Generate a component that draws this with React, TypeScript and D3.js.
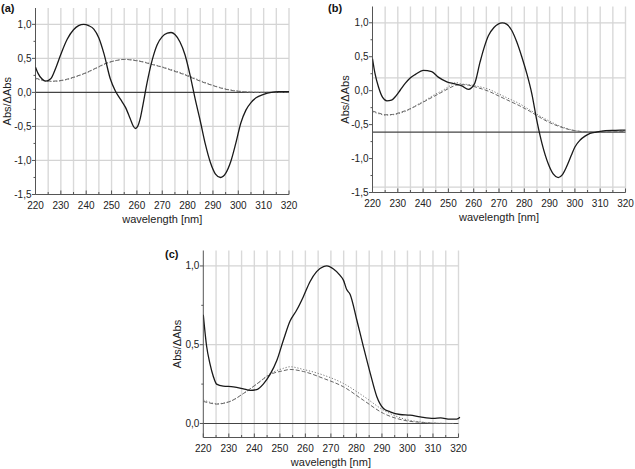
import React from "react";
import * as d3 from "d3";

// ---------- DATA ----------
const X_TICKS = [220, 230, 240, 250, 260, 270, 280, 290, 300, 310, 320];
const X_GRID = [225, 230, 235, 240, 245, 250, 255, 260, 265, 270, 275, 280, 285, 290, 295, 300, 305, 310, 315, 320];
const Y_TICKS_AB = [1.0, 0.5, 0.0, -0.5, -1.0, -1.5];
const Y_TICKS_C = [1.0, 0.5, 0.0];

// Panel (a)
const aSolidWl = [220, 221, 222.5, 224, 226, 228, 230, 232.5, 235, 237, 239, 241, 243, 245, 247, 249.5, 251.5, 253.5, 255.5, 257.3, 258.5, 259.4, 260.3, 261.2, 262.3, 264, 266, 268, 270, 272, 273.5, 275, 277, 279, 281, 283, 285, 287, 289, 291, 293, 295, 297, 299, 301, 303, 305, 307, 310, 313, 316, 320];
const aSolidVal = [0.37, 0.28, 0.2, 0.165, 0.2, 0.36, 0.56, 0.78, 0.92, 0.98, 1.0, 0.98, 0.93, 0.8, 0.57, 0.2, 0.02, -0.1, -0.22, -0.38, -0.49, -0.53, -0.5, -0.4, -0.2, 0.14, 0.47, 0.7, 0.82, 0.87, 0.88, 0.85, 0.74, 0.55, 0.25, -0.1, -0.42, -0.76, -1.03, -1.2, -1.25, -1.19, -1.02, -0.75, -0.45, -0.26, -0.15, -0.08, -0.03, 0.0, 0.01, 0.01];
const aDashWl = [220, 223, 226, 229, 232, 236, 240, 244, 248, 252, 255, 258, 262, 266, 270, 274, 278, 282, 286, 290, 294, 298, 302, 306, 310, 320];
const aDashVal = [0.21, 0.18, 0.165, 0.17, 0.19, 0.235, 0.29, 0.36, 0.43, 0.47, 0.485, 0.475, 0.45, 0.41, 0.37, 0.32, 0.27, 0.21, 0.15, 0.1, 0.055, 0.025, 0.01, 0.0, 0.0, 0.0];
const aDotVal = [0.2, 0.175, 0.16, 0.165, 0.185, 0.23, 0.285, 0.355, 0.425, 0.47, 0.485, 0.48, 0.455, 0.415, 0.375, 0.33, 0.28, 0.22, 0.16, 0.105, 0.06, 0.03, 0.012, 0.003, 0.0, 0.0];

// Panel (b)
const bSolidWl = [220, 221, 222.4, 224, 225.7, 227.5, 229, 231, 233, 235, 237, 240, 243.4, 246, 249.4, 252.6, 255.3, 257.9, 260.3, 262.5, 264, 265.8, 268, 271.3, 273, 275, 277, 279, 281, 283, 285, 287, 289.5, 291.5, 293.4, 295, 296.7, 298.5, 300, 302, 304, 306, 308.5, 312, 316, 320];
const bSolidVal = [0.47, 0.25, 0.05, -0.1, -0.15, -0.14, -0.09, 0.01, 0.11, 0.19, 0.24, 0.3, 0.28, 0.2, 0.13, 0.1, 0.07, 0.02, 0.1, 0.42, 0.62, 0.81, 0.93, 1.0, 0.98, 0.89, 0.72, 0.5, 0.25, -0.05, -0.45, -0.78, -1.08, -1.23, -1.28, -1.24, -1.12, -0.96, -0.83, -0.73, -0.67, -0.63, -0.61, -0.59, -0.585, -0.58];
const bDashWl = [220, 222.5, 225, 228, 231, 234, 237, 240, 244, 248, 251, 253, 255, 258, 262, 266, 270, 274, 278, 282, 286, 290, 294, 298, 302, 306, 310, 320];
const bDashVal = [-0.3, -0.33, -0.355, -0.35, -0.32, -0.28, -0.23, -0.17, -0.09, -0.01, 0.05, 0.08, 0.09, 0.08, 0.04, -0.01, -0.08, -0.15, -0.22, -0.3, -0.39, -0.47, -0.53, -0.575, -0.6, -0.61, -0.61, -0.6];
const bDotVal = [-0.31, -0.34, -0.36, -0.355, -0.33, -0.29, -0.22, -0.16, -0.07, 0.01, 0.08, 0.12, 0.1, 0.09, 0.06, 0.02, -0.05, -0.12, -0.19, -0.28, -0.37, -0.45, -0.52, -0.57, -0.6, -0.61, -0.6, -0.59];

// Panel (c)
const cSolidWl = [220, 221.3, 222.6, 223.9, 225.2, 227.8, 231.8, 235.7, 238.3, 240.9, 243.5, 246.1, 248.8, 251.4, 254, 256.6, 259.2, 261.8, 264.4, 267.1, 268.4, 271, 273.6, 274.9, 276.2, 277.5, 280.1, 282.7, 285.4, 288, 290.6, 293.2, 297.1, 301, 305, 310.2, 313, 316.7, 319.3, 320.6];
const cSolidVal = [0.69, 0.49, 0.38, 0.3, 0.25, 0.237, 0.233, 0.22, 0.21, 0.215, 0.25, 0.31, 0.4, 0.53, 0.65, 0.72, 0.805, 0.9, 0.964, 0.996, 1.0, 0.98, 0.94, 0.91, 0.85, 0.82, 0.66, 0.49, 0.32, 0.17, 0.095, 0.074, 0.057, 0.053, 0.042, 0.032, 0.035, 0.028, 0.028, 0.04];
const cDashWl = [220, 222.5, 225.2, 228, 230.5, 235.7, 240.9, 246.1, 251.4, 254, 259.2, 267.1, 274.9, 282.7, 290.6, 298.4, 306.3, 312, 318];
const cDashVal = [0.14, 0.13, 0.123, 0.128, 0.14, 0.19, 0.25, 0.31, 0.335, 0.343, 0.33, 0.286, 0.233, 0.148, 0.064, 0.021, 0.006, 0.001, 0.0];
const cDotVal = [0.15, 0.135, 0.125, 0.13, 0.14, 0.19, 0.25, 0.315, 0.35, 0.36, 0.343, 0.307, 0.254, 0.174, 0.085, 0.03, 0.008, 0.002, 0.0];

// ---------- COMPONENTS ----------
type Series = { wl: number[]; val: number[]; kind: "solid" | "dash" | "dot" };

interface PanelProps {
  label: string;
  labelX: number;
  labelY: number;
  x0: number;
  x1: number;
  yTop: number;
  yBottom: number;
  yDomain: [number, number];
  yTicks: number[];
  yMinor: number[];
  hGrid: number[];
  baseline: number;
  yTitleX: number;
  series: Series[];
}

const FONT = "Liberation Sans, Arial, Helvetica, sans-serif";

function Panel(p: PanelProps) {
  const x = d3.scaleLinear().domain([220, 320]).range([p.x0, p.x1]);
  const y = d3.scaleLinear().domain(p.yDomain).range([p.yBottom, p.yTop]);
  const clipId = "clip-" + p.label.replace(/[()]/g, "");
  const styles: Record<string, { stroke: string; width: number; dash?: string }> = {
    solid: { stroke: "#1a1a1a", width: 1.3 },
    dash: { stroke: "#666", width: 1, dash: "4,2" },
    dot: { stroke: "#777", width: 1, dash: "1.2,1.8" },
  };
  const line = (s: Series) =>
    d3
      .line<number>()
      .x((_, i) => x(s.wl[i]))
      .y((v) => y(v))
      .curve(d3.curveMonotoneX)(s.val) || "";
  const yMid = (p.yTop + p.yBottom) / 2;
  return (
    <g fontFamily={FONT}>
      <defs>
        <clipPath id={clipId}>
          <rect x={p.x0} y={p.yTop} width={p.x1 - p.x0 + 2} height={p.yBottom - p.yTop} />
        </clipPath>
      </defs>
      {X_GRID.map((g) => (
        <line key={"vg" + g} x1={x(g)} x2={x(g)} y1={p.yTop} y2={p.yBottom} stroke="#d9d9d9" strokeWidth={1.4} />
      ))}
      {p.hGrid.map((g) => (
        <line key={"hg" + g} x1={p.x0} x2={p.x1} y1={y(g)} y2={y(g)} stroke="#d4d4d4" strokeWidth={1.2} />
      ))}
      <line x1={p.x0} x2={p.x1} y1={y(p.baseline)} y2={y(p.baseline)} stroke="#444" strokeWidth={1.1} />
      <line x1={p.x0} x2={p.x0} y1={p.yTop} y2={p.yBottom} stroke="#555" strokeWidth={1} />
      <line x1={p.x0} x2={p.x1} y1={p.yBottom} y2={p.yBottom} stroke="#555" strokeWidth={1} />
      {X_GRID.concat([220]).map((t) => (
        <line key={"xt" + t} x1={x(t)} x2={x(t)} y1={p.yBottom} y2={p.yBottom - (t % 10 === 0 ? 4 : 2.5)} stroke="#555" strokeWidth={1} />
      ))}
      {X_TICKS.map((t) => (
        <text key={"xl" + t} x={x(t)} y={p.yBottom + 14} fontSize={10} textAnchor="middle" fill="#222">
          {t}
        </text>
      ))}
      <text x={(p.x0 + p.x1) / 2} y={p.yBottom + 28} fontSize={11} textAnchor="middle" fill="#222">
        wavelength [nm]
      </text>
      {p.yTicks.map((t) => (
        <g key={"yt" + t}>
          <line x1={p.x0 - 3.5} x2={p.x0} y1={y(t)} y2={y(t)} stroke="#555" strokeWidth={1} />
          <text x={p.x0 - 4} y={y(t) + 3.5} fontSize={10} textAnchor="end" fill="#222">
            {d3.format(".1f")(t).replace("−", "-").replace(".", ",")}
          </text>
        </g>
      ))}
      {p.yMinor.map((t) => (
        <line key={"ym" + t} x1={p.x0 - 2} x2={p.x0} y1={y(t)} y2={y(t)} stroke="#555" strokeWidth={1} />
      ))}
      <text
        transform={`translate(${p.yTitleX},${yMid}) rotate(-90)`}
        fontSize={11}
        textAnchor="middle"
        fill="#222"
      >
        Abs/ΔAbs
      </text>
      <text x={p.labelX} y={p.labelY} fontSize={11} fontWeight="bold" fill="#111">
        {p.label}
      </text>
      <g clipPath={`url(#${clipId})`}>
        {p.series.map((s, i) => {
          const st = styles[s.kind];
          return (
            <path
              key={i}
              d={line(s)}
              fill="none"
              stroke={st.stroke}
              strokeWidth={st.width}
              strokeDasharray={st.dash}
              strokeLinejoin="round"
            />
          );
        })}
      </g>
    </g>
  );
}

export default function App() {
  const minorAB = [0.75, 0.25, -0.25, -0.75, -1.25];
  return (
    <svg width={635} height={469} style={{ position: "absolute", left: 0, top: 0, background: "#fff" }}>
      <Panel
        label="(a)"
        labelX={1}
        labelY={12}
        x0={35.5}
        x1={289}
        yTop={8}
        yBottom={194.5}
        yDomain={[-1.5, 1.24]}
        yTicks={Y_TICKS_AB}
        yMinor={minorAB}
        hGrid={[1.0, 0.5, -0.5, -1.0]}
        baseline={0}
        yTitleX={11}
        series={[
          { wl: aDashWl, val: aDashVal, kind: "dash" },
          { wl: aDashWl, val: aDotVal, kind: "dot" },
          { wl: aSolidWl, val: aSolidVal, kind: "solid" },
        ]}
      />
      <Panel
        label="(b)"
        labelX={328}
        labelY={12}
        x0={372.5}
        x1={625.5}
        yTop={6.5}
        yBottom={192.5}
        yDomain={[-1.5, 1.24]}
        yTicks={Y_TICKS_AB}
        yMinor={minorAB}
        hGrid={[1.0, 0.19, -1.42]}
        baseline={-0.61}
        yTitleX={349}
        series={[
          { wl: bDashWl, val: bDashVal, kind: "dash" },
          { wl: bDashWl, val: bDotVal, kind: "dot" },
          { wl: bSolidWl, val: bSolidVal, kind: "solid" },
        ]}
      />
      <Panel
        label="(c)"
        labelX={165}
        labelY={258}
        x0={203.3}
        x1={458.5}
        yTop={250.5}
        yBottom={437.5}
        yDomain={[-0.089, 1.098]}
        yTicks={Y_TICKS_C}
        yMinor={[0.75, 0.25]}
        hGrid={[1.0, 0.5]}
        baseline={0}
        yTitleX={181}
        series={[
          { wl: cDashWl, val: cDashVal, kind: "dash" },
          { wl: cDashWl, val: cDotVal, kind: "dot" },
          { wl: cSolidWl, val: cSolidVal, kind: "solid" },
        ]}
      />
    </svg>
  );
}
